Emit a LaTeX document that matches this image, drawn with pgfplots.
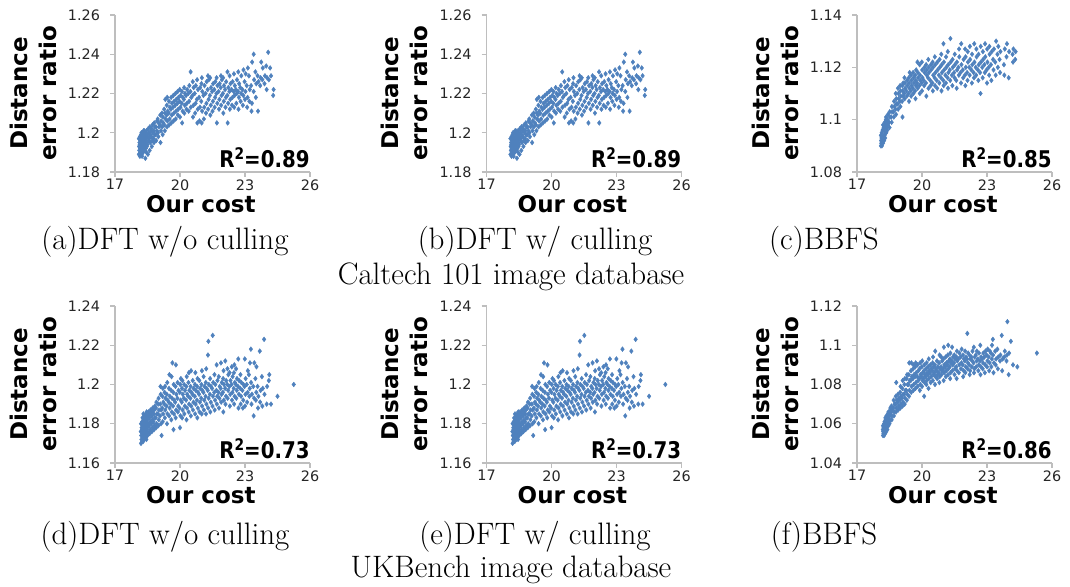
\documentclass[border=0pt]{standalone}
\usepackage{fontspec}
\usepackage{pgfplots}
\usepackage{pgfplotstable}
\pgfplotsset{compat=1.18}
\newfontfamily\dv{DejaVu Sans}
\definecolor{myblue}{RGB}{79,129,189}
\definecolor{axgray}{RGB}{190,190,190}

\pgfplotstableread[row sep=\\]{x y\\
18.10 1.189\\ 18.12 1.191\\ 18.11 1.193\\ 18.13 1.195\\ 18.10 1.197\\
18.15 1.188\\ 18.17 1.190\\ 18.16 1.192\\ 18.14 1.194\\ 18.18 1.196\\ 18.15 1.198\\
18.20 1.189\\ 18.22 1.191\\ 18.21 1.193\\ 18.19 1.195\\ 18.23 1.197\\ 18.20 1.199\\ 18.22 1.200\\
18.25 1.188\\ 18.27 1.190\\ 18.26 1.192\\ 18.24 1.194\\ 18.28 1.196\\ 18.25 1.198\\ 18.27 1.200\\
18.30 1.190\\ 18.32 1.192\\ 18.31 1.194\\ 18.29 1.196\\ 18.33 1.198\\ 18.30 1.200\\ 18.32 1.201\\
18.35 1.191\\ 18.37 1.193\\ 18.36 1.195\\ 18.34 1.197\\ 18.38 1.199\\ 18.35 1.201\\
18.40 1.187\\ 18.42 1.192\\ 18.41 1.194\\ 18.39 1.196\\ 18.43 1.198\\ 18.40 1.200\\
18.45 1.190\\ 18.47 1.193\\ 18.46 1.195\\ 18.44 1.197\\ 18.48 1.199\\ 18.45 1.201\\
18.52 1.189\\ 18.50 1.194\\ 18.55 1.196\\ 18.51 1.198\\ 18.56 1.200\\ 18.53 1.202\\
18.60 1.191\\ 18.63 1.195\\ 18.58 1.197\\ 18.62 1.199\\ 18.65 1.201\\ 18.61 1.203\\
18.70 1.193\\ 18.72 1.196\\ 18.68 1.198\\ 18.74 1.200\\ 18.69 1.202\\ 18.73 1.204\\
18.80 1.195\\ 18.78 1.197\\ 18.83 1.199\\ 18.79 1.201\\ 18.84 1.203\\ 18.81 1.205\\
18.90 1.196\\ 18.88 1.199\\ 18.93 1.201\\ 18.89 1.203\\ 18.94 1.206\\
19.00 1.198\\ 18.98 1.200\\ 19.03 1.203\\ 19.01 1.205\\ 18.97 1.207\\
19.10 1.195\\ 19.12 1.201\\ 19.08 1.204\\ 19.13 1.206\\ 19.09 1.209\\
19.20 1.199\\ 19.18 1.203\\ 19.23 1.205\\ 19.21 1.208\\ 19.17 1.210\\
19.30 1.201\\ 19.28 1.204\\ 19.33 1.207\\ 19.31 1.210\\ 19.27 1.212\\ 19.32 1.217\\
19.40 1.203\\ 19.42 1.206\\ 19.38 1.209\\ 19.43 1.211\\ 19.39 1.214\\ 19.41 1.218\\
19.50 1.204\\ 19.52 1.207\\ 19.48 1.210\\ 19.53 1.213\\ 19.49 1.216\\
19.60 1.205\\ 19.62 1.209\\ 19.58 1.212\\ 19.63 1.215\\ 19.59 1.218\\
19.70 1.206\\ 19.72 1.210\\ 19.68 1.213\\ 19.73 1.216\\ 19.69 1.219\\
19.80 1.207\\ 19.82 1.211\\ 19.78 1.214\\ 19.83 1.217\\ 19.79 1.220\\
19.90 1.209\\ 19.92 1.212\\ 19.88 1.215\\ 19.93 1.218\\ 19.89 1.221\\
20.00 1.208\\ 20.02 1.213\\ 19.98 1.216\\ 20.03 1.219\\ 19.99 1.222\\
20.10 1.205\\ 20.12 1.211\\ 20.08 1.215\\ 20.13 1.218\\ 20.09 1.221\\
20.20 1.210\\ 20.22 1.214\\ 20.18 1.217\\ 20.23 1.220\\ 20.19 1.223\\
20.30 1.212\\ 20.32 1.215\\ 20.28 1.219\\ 20.33 1.222\\
20.40 1.211\\ 20.42 1.216\\ 20.38 1.220\\ 20.43 1.224\\
20.50 1.213\\ 20.52 1.218\\ 20.48 1.221\\ 20.49 1.231\\
20.60 1.208\\ 20.62 1.214\\ 20.58 1.219\\ 20.63 1.223\\ 20.59 1.226\\
20.70 1.210\\ 20.72 1.215\\ 20.68 1.220\\ 20.73 1.224\\
20.80 1.205\\ 20.82 1.212\\ 20.78 1.217\\ 20.83 1.222\\ 20.79 1.227\\
20.90 1.206\\ 20.92 1.213\\ 20.88 1.218\\ 20.93 1.223\\
21.00 1.205\\ 21.02 1.211\\ 20.98 1.216\\ 21.03 1.221\\ 20.99 1.225\\ 21.01 1.228\\
21.10 1.207\\ 21.12 1.213\\ 21.08 1.219\\ 21.13 1.224\\
21.20 1.210\\ 21.22 1.215\\ 21.18 1.220\\ 21.23 1.226\\
21.30 1.212\\ 21.32 1.217\\ 21.28 1.222\\ 21.33 1.227\\ 21.29 1.229\\
21.40 1.209\\ 21.42 1.214\\ 21.38 1.219\\ 21.43 1.223\\ 21.39 1.228\\
21.50 1.211\\ 21.52 1.216\\ 21.48 1.221\\ 21.53 1.225\\
21.60 1.213\\ 21.62 1.218\\ 21.58 1.222\\ 21.63 1.226\\
21.70 1.205\\ 21.72 1.215\\ 21.68 1.220\\ 21.73 1.224\\ 21.69 1.228\\
21.80 1.212\\ 21.82 1.217\\ 21.78 1.221\\ 21.83 1.225\\
21.90 1.214\\ 21.92 1.219\\ 21.88 1.223\\ 21.93 1.227\\ 21.89 1.229\\
22.00 1.210\\ 22.02 1.216\\ 21.98 1.220\\ 22.03 1.224\\ 21.99 1.228\\
22.10 1.213\\ 22.12 1.218\\ 22.08 1.222\\ 22.13 1.226\\
22.20 1.205\\ 22.22 1.215\\ 22.18 1.219\\ 22.23 1.223\\ 22.19 1.231\\
22.30 1.212\\ 22.32 1.217\\ 22.28 1.221\\ 22.33 1.225\\ 22.29 1.229\\
22.40 1.214\\ 22.42 1.218\\ 22.38 1.222\\ 22.43 1.226\\
22.50 1.213\\ 22.52 1.219\\ 22.48 1.221\\ 22.53 1.224\\ 22.49 1.230\\
22.60 1.215\\ 22.62 1.220\\ 22.58 1.222\\ 22.63 1.227\\
22.70 1.212\\ 22.72 1.218\\ 22.68 1.221\\ 22.73 1.225\\ 22.69 1.231\\
22.80 1.216\\ 22.82 1.220\\ 22.78 1.223\\ 22.83 1.229\\
22.90 1.214\\ 22.92 1.219\\ 22.88 1.222\\ 22.93 1.232\\
23.00 1.217\\ 23.02 1.221\\ 22.98 1.226\\ 23.03 1.230\\
23.10 1.213\\ 23.12 1.218\\ 23.08 1.224\\ 23.13 1.233\\
23.20 1.216\\ 23.22 1.222\\ 23.18 1.229\\
23.30 1.211\\ 23.32 1.215\\ 23.28 1.224\\ 23.33 1.236\\
23.40 1.221\\ 23.42 1.227\\ 23.40 1.240\\
23.50 1.218\\ 23.52 1.225\\ 23.48 1.231\\
23.60 1.211\\ 23.62 1.226\\ 23.58 1.229\\
23.70 1.224\\ 23.72 1.228\\ 23.75 1.236\\
23.80 1.227\\ 23.82 1.233\\
23.90 1.225\\ 23.92 1.229\\
24.00 1.222\\ 24.02 1.228\\ 23.98 1.234\\
24.07 1.241\\ 24.10 1.227\\
24.20 1.229\\ 24.16 1.233\\
24.30 1.219\\ 24.32 1.222\\
}\tabA

\pgfplotstableread[row sep=\\]{x y\\
18.10 1.090\\ 18.12 1.091\\ 18.11 1.092\\ 18.13 1.093\\ 18.10 1.094\\
18.15 1.090\\ 18.17 1.092\\ 18.16 1.093\\ 18.14 1.095\\ 18.18 1.096\\
18.20 1.091\\ 18.22 1.093\\ 18.21 1.094\\ 18.19 1.096\\ 18.23 1.097\\ 18.20 1.098\\
18.25 1.092\\ 18.27 1.094\\ 18.26 1.096\\ 18.24 1.097\\ 18.28 1.099\\
18.30 1.093\\ 18.32 1.095\\ 18.31 1.097\\ 18.29 1.098\\ 18.33 1.100\\
18.35 1.095\\ 18.37 1.097\\ 18.36 1.099\\ 18.34 1.101\\
18.40 1.096\\ 18.42 1.098\\ 18.41 1.100\\ 18.43 1.102\\
18.50 1.097\\ 18.48 1.099\\ 18.52 1.101\\ 18.51 1.103\\
18.60 1.099\\ 18.58 1.101\\ 18.62 1.103\\ 18.61 1.105\\
18.70 1.101\\ 18.68 1.103\\ 18.72 1.105\\ 18.71 1.107\\
18.80 1.102\\ 18.78 1.104\\ 18.82 1.106\\ 18.81 1.108\\ 18.79 1.110\\
18.90 1.104\\ 18.88 1.106\\ 18.92 1.108\\ 18.91 1.110\\ 18.89 1.112\\
19.00 1.105\\ 18.98 1.107\\ 19.02 1.109\\ 19.01 1.111\\ 18.99 1.113\\
19.10 1.101\\ 19.08 1.107\\ 19.12 1.109\\ 19.11 1.111\\ 19.09 1.113\\ 19.13 1.114\\
19.20 1.108\\ 19.18 1.110\\ 19.22 1.112\\ 19.21 1.114\\ 19.19 1.116\\
19.30 1.109\\ 19.28 1.111\\ 19.32 1.113\\ 19.31 1.115\\
19.40 1.107\\ 19.38 1.110\\ 19.42 1.112\\ 19.41 1.114\\ 19.39 1.116\\ 19.43 1.118\\
19.50 1.109\\ 19.48 1.111\\ 19.52 1.113\\ 19.51 1.115\\ 19.49 1.117\\
19.60 1.110\\ 19.58 1.112\\ 19.62 1.114\\ 19.61 1.116\\ 19.59 1.118\\
19.70 1.108\\ 19.68 1.111\\ 19.72 1.113\\ 19.71 1.115\\ 19.69 1.117\\ 19.73 1.119\\
19.80 1.112\\ 19.78 1.114\\ 19.82 1.116\\ 19.81 1.118\\ 19.79 1.122\\
19.90 1.110\\ 19.88 1.113\\ 19.92 1.115\\ 19.91 1.117\\ 19.89 1.121\\
20.00 1.111\\ 19.98 1.114\\ 20.02 1.116\\ 20.01 1.119\\ 19.99 1.122\\
20.10 1.113\\ 20.08 1.115\\ 20.12 1.118\\ 20.11 1.120\\
20.20 1.109\\ 20.18 1.114\\ 20.22 1.117\\ 20.21 1.119\\ 20.19 1.121\\
20.30 1.112\\ 20.28 1.116\\ 20.32 1.118\\ 20.31 1.120\\ 20.29 1.123\\
20.40 1.113\\ 20.38 1.115\\ 20.42 1.119\\ 20.41 1.121\\
20.50 1.111\\ 20.48 1.114\\ 20.52 1.117\\ 20.51 1.120\\ 20.49 1.122\\
20.60 1.113\\ 20.58 1.116\\ 20.62 1.118\\ 20.61 1.121\\ 20.59 1.124\\
20.70 1.112\\ 20.68 1.115\\ 20.72 1.119\\ 20.71 1.122\\
20.80 1.114\\ 20.78 1.117\\ 20.82 1.120\\ 20.81 1.123\\
20.90 1.111\\ 20.88 1.116\\ 20.92 1.118\\ 20.91 1.121\\ 20.89 1.125\\
21.00 1.113\\ 20.98 1.115\\ 21.02 1.119\\ 21.01 1.122\\ 20.99 1.129\\
21.10 1.114\\ 21.08 1.117\\ 21.12 1.120\\ 21.11 1.124\\
21.20 1.112\\ 21.18 1.116\\ 21.22 1.118\\ 21.21 1.121\\ 21.19 1.126\\
21.30 1.115\\ 21.28 1.119\\ 21.32 1.122\\ 21.31 1.131\\
21.40 1.113\\ 21.38 1.117\\ 21.42 1.120\\ 21.41 1.123\\
21.50 1.116\\ 21.48 1.118\\ 21.52 1.121\\ 21.51 1.125\\
21.60 1.112\\ 21.58 1.115\\ 21.62 1.119\\ 21.61 1.122\\
21.70 1.117\\ 21.68 1.120\\ 21.72 1.124\\ 21.71 1.127\\
21.80 1.114\\ 21.78 1.118\\ 21.82 1.121\\ 21.81 1.129\\
21.90 1.116\\ 21.88 1.119\\ 21.92 1.123\\
22.00 1.113\\ 21.98 1.117\\ 22.02 1.120\\ 22.01 1.124\\ 21.99 1.127\\
22.10 1.115\\ 22.08 1.118\\ 22.12 1.122\\ 22.11 1.126\\
22.20 1.117\\ 22.18 1.120\\ 22.22 1.123\\ 22.21 1.128\\
22.30 1.114\\ 22.28 1.119\\ 22.32 1.121\\ 22.31 1.125\\
22.40 1.116\\ 22.38 1.118\\ 22.42 1.122\\ 22.41 1.129\\
22.50 1.117\\ 22.48 1.120\\ 22.52 1.124\\ 22.51 1.127\\
22.60 1.115\\ 22.58 1.119\\ 22.62 1.121\\ 22.61 1.125\\
22.70 1.110\\ 22.68 1.118\\ 22.72 1.122\\ 22.71 1.128\\
22.80 1.116\\ 22.78 1.120\\ 22.82 1.123\\ 22.81 1.126\\
22.90 1.118\\ 22.88 1.121\\ 22.92 1.124\\ 22.91 1.129\\
23.00 1.114\\ 22.98 1.119\\ 23.02 1.122\\ 23.01 1.127\\
23.10 1.117\\ 23.08 1.120\\ 23.12 1.125\\ 23.11 1.128\\
23.20 1.115\\ 23.18 1.121\\ 23.22 1.126\\
23.30 1.119\\ 23.28 1.123\\ 23.32 1.127\\
23.40 1.117\\ 23.38 1.122\\ 23.42 1.130\\
23.50 1.120\\ 23.48 1.125\\ 23.52 1.128\\
23.60 1.118\\ 23.58 1.123\\ 23.62 1.126\\
23.80 1.117\\ 23.78 1.121\\ 23.82 1.127\\
23.90 1.124\\ 23.92 1.129\\
24.00 1.116\\ 24.02 1.126\\
24.20 1.122\\ 24.18 1.125\\ 24.22 1.127\\
24.30 1.123\\ 24.32 1.126\\
}\tabC

\pgfplotstableread[row sep=\\]{x y\\
18.20 1.170\\ 18.22 1.172\\ 18.21 1.174\\ 18.19 1.176\\ 18.23 1.178\\ 18.20 1.180\\
18.25 1.171\\ 18.27 1.173\\ 18.26 1.175\\ 18.24 1.177\\ 18.28 1.179\\ 18.25 1.181\\ 18.27 1.183\\
18.30 1.171\\ 18.32 1.173\\ 18.31 1.175\\ 18.29 1.177\\ 18.33 1.179\\ 18.30 1.181\\ 18.32 1.183\\ 18.31 1.185\\
18.35 1.172\\ 18.37 1.174\\ 18.36 1.176\\ 18.34 1.178\\ 18.38 1.180\\ 18.35 1.182\\ 18.37 1.184\\
18.40 1.173\\ 18.42 1.175\\ 18.41 1.177\\ 18.39 1.179\\ 18.43 1.181\\ 18.40 1.183\\ 18.42 1.185\\
18.45 1.172\\ 18.47 1.174\\ 18.46 1.176\\ 18.44 1.178\\ 18.48 1.180\\ 18.45 1.182\\ 18.47 1.184\\ 18.46 1.186\\
18.50 1.174\\ 18.52 1.176\\ 18.51 1.178\\ 18.53 1.180\\ 18.50 1.182\\ 18.52 1.184\\ 18.54 1.186\\
18.60 1.175\\ 18.62 1.177\\ 18.58 1.179\\ 18.63 1.181\\ 18.59 1.183\\ 18.61 1.185\\ 18.64 1.187\\
18.70 1.176\\ 18.72 1.178\\ 18.68 1.180\\ 18.73 1.182\\ 18.69 1.184\\ 18.71 1.186\\ 18.74 1.188\\
18.80 1.177\\ 18.82 1.179\\ 18.78 1.181\\ 18.83 1.183\\ 18.79 1.185\\ 18.81 1.187\\ 18.84 1.189\\
18.90 1.178\\ 18.92 1.180\\ 18.88 1.183\\ 18.93 1.185\\ 18.89 1.188\\ 18.91 1.191\\
19.00 1.179\\ 19.02 1.182\\ 18.98 1.185\\ 19.03 1.187\\ 18.99 1.190\\ 19.01 1.193\\
19.15 1.174\\ 19.12 1.180\\ 19.08 1.184\\ 19.13 1.187\\ 19.09 1.190\\ 19.11 1.195\\ 19.10 1.199\\
19.20 1.181\\ 19.22 1.185\\ 19.18 1.188\\ 19.23 1.191\\ 19.19 1.194\\ 19.21 1.198\\
19.30 1.183\\ 19.32 1.187\\ 19.28 1.190\\ 19.33 1.193\\ 19.29 1.196\\ 19.31 1.199\\
19.40 1.180\\ 19.42 1.185\\ 19.38 1.189\\ 19.43 1.192\\ 19.39 1.195\\ 19.41 1.201\\
19.50 1.184\\ 19.52 1.188\\ 19.48 1.191\\ 19.53 1.194\\ 19.49 1.198\\ 19.51 1.205\\
19.60 1.182\\ 19.62 1.186\\ 19.58 1.190\\ 19.63 1.193\\ 19.59 1.197\\ 19.61 1.204\\
19.70 1.177\\ 19.72 1.185\\ 19.68 1.189\\ 19.73 1.192\\ 19.69 1.196\\ 19.71 1.200\\ 19.65 1.211\\
19.80 1.183\\ 19.82 1.187\\ 19.78 1.191\\ 19.83 1.195\\ 19.79 1.199\\ 19.81 1.210\\
19.90 1.186\\ 19.92 1.189\\ 19.88 1.193\\ 19.93 1.197\\ 19.89 1.201\\
20.00 1.178\\ 20.02 1.184\\ 19.98 1.188\\ 20.03 1.192\\ 19.99 1.196\\ 20.01 1.200\\ 20.04 1.203\\
20.10 1.183\\ 20.12 1.187\\ 20.08 1.191\\ 20.13 1.195\\ 20.09 1.198\\ 20.11 1.202\\
20.20 1.185\\ 20.22 1.189\\ 20.18 1.193\\ 20.23 1.197\\ 20.19 1.200\\
20.30 1.182\\ 20.32 1.188\\ 20.28 1.192\\ 20.33 1.195\\ 20.29 1.199\\ 20.31 1.204\\
20.40 1.186\\ 20.42 1.190\\ 20.38 1.194\\ 20.43 1.197\\ 20.39 1.201\\ 20.41 1.206\\
20.50 1.184\\ 20.52 1.189\\ 20.48 1.193\\ 20.53 1.196\\ 20.49 1.199\\ 20.51 1.207\\
20.60 1.187\\ 20.62 1.191\\ 20.58 1.195\\ 20.63 1.198\\ 20.59 1.202\\
20.70 1.185\\ 20.72 1.190\\ 20.68 1.194\\ 20.73 1.197\\ 20.69 1.200\\ 20.71 1.206\\
20.80 1.183\\ 20.82 1.188\\ 20.78 1.192\\ 20.83 1.196\\ 20.79 1.199\\ 20.81 1.203\\
20.90 1.186\\ 20.92 1.191\\ 20.88 1.195\\ 20.93 1.198\\ 20.89 1.202\\
21.00 1.185\\ 21.02 1.189\\ 20.98 1.193\\ 21.03 1.197\\ 20.99 1.200\\ 21.01 1.207\\
21.10 1.187\\ 21.12 1.192\\ 21.08 1.196\\ 21.13 1.199\\ 21.09 1.204\\
21.20 1.185\\ 21.22 1.190\\ 21.18 1.194\\ 21.23 1.198\\ 21.19 1.201\\ 21.21 1.208\\
21.30 1.188\\ 21.32 1.193\\ 21.28 1.197\\ 21.33 1.200\\ 21.29 1.215\\ 21.31 1.222\\
21.40 1.186\\ 21.42 1.191\\ 21.38 1.195\\ 21.43 1.199\\ 21.39 1.203\\
21.50 1.189\\ 21.52 1.194\\ 21.48 1.198\\ 21.53 1.201\\ 21.51 1.225\\
21.60 1.187\\ 21.62 1.192\\ 21.58 1.196\\ 21.63 1.200\\ 21.59 1.205\\
21.70 1.190\\ 21.72 1.194\\ 21.68 1.197\\ 21.73 1.202\\ 21.69 1.210\\
21.80 1.188\\ 21.82 1.193\\ 21.78 1.196\\ 21.83 1.199\\ 21.79 1.204\\
21.90 1.191\\ 21.92 1.195\\ 21.88 1.198\\ 21.93 1.201\\ 21.89 1.211\\
22.00 1.186\\ 22.02 1.192\\ 21.98 1.196\\ 22.03 1.200\\ 21.99 1.203\\ 22.01 1.207\\
22.10 1.190\\ 22.12 1.194\\ 22.08 1.198\\ 22.13 1.202\\ 22.09 1.212\\
22.20 1.193\\ 22.22 1.197\\ 22.18 1.200\\ 22.23 1.205\\ 22.19 1.208\\
22.30 1.189\\ 22.32 1.195\\ 22.28 1.199\\ 22.33 1.202\\ 22.29 1.206\\
22.40 1.192\\ 22.42 1.196\\ 22.38 1.200\\ 22.43 1.204\\ 22.39 1.209\\
22.50 1.190\\ 22.52 1.194\\ 22.48 1.198\\ 22.53 1.201\\ 22.49 1.206\\ 22.51 1.210\\
22.60 1.193\\ 22.62 1.197\\ 22.58 1.200\\ 22.63 1.203\\ 22.59 1.208\\
22.70 1.188\\ 22.72 1.195\\ 22.68 1.199\\ 22.73 1.202\\ 22.69 1.213\\
22.80 1.190\\ 22.82 1.194\\ 22.78 1.198\\ 22.83 1.201\\ 22.79 1.205\\
22.90 1.188\\ 22.92 1.192\\ 22.88 1.197\\ 22.93 1.200\\
23.00 1.189\\ 23.02 1.195\\ 22.98 1.199\\ 23.03 1.203\\ 22.99 1.213\\
23.10 1.191\\ 23.12 1.196\\ 23.08 1.200\\ 23.13 1.207\\
23.20 1.194\\ 23.22 1.198\\ 23.18 1.205\\ 23.23 1.211\\
23.30 1.190\\ 23.32 1.195\\ 23.28 1.201\\ 23.27 1.218\\
23.40 1.184\\ 23.42 1.193\\ 23.38 1.199\\ 23.43 1.211\\
23.50 1.192\\ 23.52 1.196\\ 23.48 1.203\\ 23.53 1.209\\
23.60 1.188\\ 23.62 1.194\\ 23.58 1.199\\
23.70 1.191\\ 23.72 1.197\\ 23.68 1.217\\
23.80 1.189\\ 23.82 1.198\\ 23.78 1.204\\
23.90 1.195\\ 23.88 1.223\\
24.00 1.190\\ 24.02 1.199\\
24.10 1.202\\ 24.12 1.205\\
24.20 1.190\\
24.50 1.194\\
25.25 1.200\\
}\tabD

\pgfplotstableread[row sep=\\]{x y\\
18.20 1.054\\ 18.22 1.055\\ 18.21 1.056\\ 18.19 1.057\\ 18.23 1.058\\ 18.20 1.059\\
18.25 1.054\\ 18.27 1.056\\ 18.26 1.057\\ 18.24 1.058\\ 18.28 1.059\\ 18.25 1.060\\ 18.27 1.061\\
18.30 1.055\\ 18.32 1.057\\ 18.31 1.058\\ 18.29 1.059\\ 18.33 1.060\\ 18.30 1.061\\ 18.32 1.062\\ 18.31 1.063\\
18.35 1.056\\ 18.37 1.058\\ 18.36 1.059\\ 18.34 1.060\\ 18.38 1.061\\ 18.35 1.062\\ 18.37 1.063\\ 18.36 1.064\\
18.40 1.057\\ 18.42 1.059\\ 18.41 1.060\\ 18.39 1.062\\ 18.43 1.063\\ 18.40 1.064\\ 18.42 1.065\\
18.45 1.059\\ 18.47 1.061\\ 18.46 1.062\\ 18.44 1.063\\ 18.48 1.065\\ 18.45 1.066\\
18.50 1.060\\ 18.52 1.062\\ 18.51 1.064\\ 18.53 1.065\\ 18.50 1.066\\ 18.54 1.068\\
18.60 1.062\\ 18.62 1.064\\ 18.58 1.066\\ 18.63 1.067\\ 18.59 1.069\\
18.70 1.064\\ 18.72 1.066\\ 18.68 1.068\\ 18.73 1.070\\ 18.69 1.072\\
18.80 1.066\\ 18.82 1.068\\ 18.78 1.070\\ 18.83 1.072\\ 18.79 1.074\\ 18.81 1.081\\
18.90 1.067\\ 18.92 1.069\\ 18.88 1.071\\ 18.93 1.073\\ 18.89 1.075\\
19.00 1.068\\ 19.02 1.070\\ 18.98 1.072\\ 19.03 1.074\\ 18.99 1.076\\ 19.01 1.079\\
19.10 1.069\\ 19.12 1.071\\ 19.08 1.073\\ 19.13 1.075\\ 19.09 1.078\\ 19.11 1.082\\
19.20 1.070\\ 19.22 1.073\\ 19.18 1.075\\ 19.23 1.077\\ 19.19 1.080\\ 19.21 1.083\\
19.30 1.072\\ 19.32 1.075\\ 19.28 1.077\\ 19.33 1.080\\ 19.29 1.083\\ 19.31 1.085\\
19.40 1.074\\ 19.42 1.077\\ 19.38 1.080\\ 19.43 1.082\\ 19.39 1.085\\ 19.41 1.091\\
19.50 1.076\\ 19.52 1.079\\ 19.48 1.082\\ 19.53 1.084\\ 19.49 1.087\\ 19.51 1.091\\
19.60 1.077\\ 19.62 1.080\\ 19.58 1.083\\ 19.63 1.085\\ 19.59 1.088\\ 19.61 1.090\\
19.70 1.078\\ 19.72 1.081\\ 19.68 1.084\\ 19.73 1.086\\ 19.69 1.089\\ 19.71 1.091\\
19.80 1.079\\ 19.82 1.082\\ 19.78 1.084\\ 19.83 1.087\\ 19.79 1.090\\
19.90 1.077\\ 19.92 1.080\\ 19.88 1.083\\ 19.93 1.085\\ 19.89 1.088\\ 19.91 1.091\\
20.00 1.079\\ 20.02 1.082\\ 19.98 1.084\\ 20.03 1.086\\ 19.99 1.089\\ 20.01 1.092\\
20.10 1.074\\ 20.12 1.081\\ 20.08 1.083\\ 20.13 1.085\\ 20.09 1.087\\ 20.11 1.090\\
20.20 1.080\\ 20.22 1.082\\ 20.18 1.084\\ 20.23 1.086\\ 20.19 1.088\\ 20.21 1.091\\
20.30 1.078\\ 20.32 1.083\\ 20.28 1.085\\ 20.33 1.087\\ 20.29 1.089\\ 20.31 1.093\\
20.40 1.081\\ 20.42 1.084\\ 20.38 1.086\\ 20.43 1.088\\ 20.39 1.090\\
20.50 1.082\\ 20.52 1.085\\ 20.48 1.087\\ 20.53 1.089\\ 20.49 1.091\\ 20.51 1.094\\
20.60 1.080\\ 20.62 1.084\\ 20.58 1.086\\ 20.63 1.088\\ 20.59 1.090\\ 20.61 1.097\\
20.70 1.083\\ 20.72 1.085\\ 20.68 1.087\\ 20.73 1.089\\ 20.69 1.092\\
20.80 1.081\\ 20.82 1.084\\ 20.78 1.086\\ 20.83 1.088\\ 20.79 1.091\\ 20.81 1.095\\
20.90 1.085\\ 20.92 1.087\\ 20.88 1.089\\ 20.93 1.092\\ 20.89 1.094\\
21.00 1.082\\ 21.02 1.086\\ 20.98 1.088\\ 21.03 1.090\\ 20.99 1.093\\ 21.01 1.099\\
21.10 1.084\\ 21.12 1.087\\ 21.08 1.089\\ 21.13 1.091\\ 21.09 1.094\\
21.20 1.085\\ 21.22 1.088\\ 21.18 1.090\\ 21.23 1.092\\ 21.19 1.095\\ 21.21 1.100\\
21.30 1.083\\ 21.32 1.086\\ 21.28 1.089\\ 21.33 1.091\\ 21.29 1.093\\ 21.31 1.096\\
21.40 1.087\\ 21.42 1.090\\ 21.38 1.092\\ 21.43 1.094\\ 21.39 1.099\\
21.50 1.085\\ 21.52 1.088\\ 21.48 1.091\\ 21.53 1.093\\ 21.49 1.095\\
21.60 1.083\\ 21.62 1.087\\ 21.58 1.089\\ 21.63 1.092\\ 21.59 1.094\\ 21.61 1.097\\
21.70 1.086\\ 21.72 1.090\\ 21.68 1.093\\ 21.73 1.096\\
21.80 1.088\\ 21.82 1.091\\ 21.78 1.094\\ 21.83 1.098\\
21.90 1.084\\ 21.92 1.087\\ 21.88 1.090\\ 21.93 1.093\\ 21.89 1.095\\
22.00 1.086\\ 22.02 1.089\\ 21.98 1.092\\ 22.03 1.094\\ 21.99 1.097\\
22.10 1.088\\ 22.12 1.091\\ 22.08 1.093\\ 22.13 1.096\\ 22.09 1.106\\
22.20 1.085\\ 22.22 1.087\\ 22.18 1.090\\ 22.23 1.093\\ 22.19 1.095\\
22.30 1.089\\ 22.32 1.092\\ 22.28 1.094\\ 22.33 1.097\\
22.40 1.086\\ 22.42 1.088\\ 22.38 1.091\\ 22.43 1.094\\ 22.39 1.099\\
22.50 1.089\\ 22.52 1.092\\ 22.48 1.095\\ 22.53 1.097\\
22.60 1.087\\ 22.62 1.090\\ 22.58 1.093\\ 22.63 1.096\\
22.70 1.085\\ 22.72 1.089\\ 22.68 1.092\\ 22.73 1.094\\ 22.69 1.100\\
22.80 1.088\\ 22.82 1.091\\ 22.78 1.093\\ 22.83 1.096\\
22.90 1.086\\ 22.92 1.090\\ 22.88 1.094\\ 22.93 1.097\\
23.00 1.089\\ 23.02 1.092\\ 22.98 1.095\\ 23.03 1.098\\
23.10 1.087\\ 23.12 1.091\\ 23.08 1.094\\ 23.13 1.097\\
23.20 1.089\\ 23.22 1.093\\ 23.18 1.096\\ 23.23 1.100\\
23.30 1.086\\ 23.32 1.091\\ 23.28 1.095\\ 23.27 1.103\\
23.40 1.090\\ 23.42 1.093\\ 23.38 1.097\\
23.50 1.088\\ 23.52 1.094\\ 23.48 1.098\\
23.60 1.092\\ 23.62 1.095\\
23.70 1.087\\ 23.72 1.093\\ 23.68 1.105\\
23.80 1.094\\ 23.82 1.097\\
23.90 1.092\\ 23.92 1.095\\ 23.94 1.112\\
24.00 1.085\\ 24.02 1.096\\
24.10 1.102\\
24.20 1.090\\
24.40 1.089\\
25.30 1.096\\
}\tabF

\pgfplotsset{
  sc/.style={
    scale only axis, width=97.5pt, height=78.5pt,
    xmin=17, xmax=26, xtick={17,20,23,26},
    axis x line*=bottom, axis y line*=left,
    axis line style={draw=axgray, line width=0.6pt},
    every tick/.style={draw=axgray, line width=0.6pt},
    tick align=outside, major tick length=2.5pt,
    ticklabel style={font=\dv\fontsize{7.2}{8}\selectfont, text=black!85, inner sep=0pt},
    xticklabel style={yshift=-1pt},
    yticklabel style={xshift=-4.8pt},
    /pgf/number format/assume math mode=true,
    clip=false,
    xlabel={Our cost},
    xlabel style={font=\dv\bfseries\fontsize{11.5}{13}\selectfont, inner sep=0pt, at={(axis description cs:0.44,-0.255)}, anchor=base},
    ylabel={Distance\\error ratio},
    ylabel style={font=\dv\bfseries\fontsize{11.5}{14.5}\selectfont, inner sep=0pt, align=center, at={(axis description cs:-0.42,0.5)}, anchor=center},
  },
  pts/.style={only marks, mark=diamond*, mark size=1.2pt, color=myblue, mark options={line width=0.2pt}},
}
\tikzset{rsq/.style={font=\dv\bfseries\fontsize{11.5}{13}\selectfont, anchor=base east, inner sep=0pt}}
\newcommand{\rsq}[1]{\scalebox{0.86}[1]{R\raisebox{0.32em}{\fontsize{8}{8}\selectfont 2}=#1}}

\begin{document}
\begin{tikzpicture}
\useasboundingbox (0,0) rectangle (535pt,293.5pt);

% (a)
\begin{axis}[sc, at={(57.5pt,207.5pt)}, anchor=south west,
  ymin=1.18, ymax=1.26, ytick={1.18,1.2,1.22,1.24,1.26}]
\addplot[pts] table {\tabA};
\node[rsq] at (rel axis cs:1,0.03) {\rsq{0.89}};
\end{axis}
% (b)
\begin{axis}[sc, at={(243.3pt,207.5pt)}, anchor=south west,
  ymin=1.18, ymax=1.26, ytick={1.18,1.2,1.22,1.24,1.26}]
\addplot[pts] table {\tabA};
\node[rsq] at (rel axis cs:1,0.03) {\rsq{0.89}};
\end{axis}
% (c)
\begin{axis}[sc, at={(428.5pt,207.5pt)}, anchor=south west,
  ymin=1.08, ymax=1.14, ytick={1.08,1.1,1.12,1.14}]
\addplot[pts] table {\tabC};
\node[rsq] at (rel axis cs:1,0.03) {\rsq{0.85}};
\end{axis}
% (d)
\begin{axis}[sc, at={(57.5pt,62pt)}, anchor=south west,
  ymin=1.16, ymax=1.24, ytick={1.16,1.18,1.2,1.22,1.24}]
\addplot[pts] table {\tabD};
\node[rsq] at (rel axis cs:1,0.03) {\rsq{0.73}};
\end{axis}
% (e)
\begin{axis}[sc, at={(243.3pt,62pt)}, anchor=south west,
  ymin=1.16, ymax=1.24, ytick={1.16,1.18,1.2,1.22,1.24}]
\addplot[pts] table {\tabD};
\node[rsq] at (rel axis cs:1,0.03) {\rsq{0.73}};
\end{axis}
% (f)
\begin{axis}[sc, at={(428.5pt,62pt)}, anchor=south west,
  ymin=1.04, ymax=1.12, ytick={1.04,1.06,1.08,1.1,1.12}]
\addplot[pts] table {\tabF};
\node[rsq] at (rel axis cs:1,0.03) {\rsq{0.86}};
\end{axis}

\begin{scope}[every node/.style={font=\fontsize{15.5}{18}\selectfont, anchor=base, inner sep=0pt}]
\node at (82.5pt,168.5pt) {(a)DFT w/o culling};
\node at (267.5pt,168.5pt) {(b)DFT w/ culling};
\node at (412pt,168.5pt) {(c)BBFS};
\node at (255.5pt,151pt) {Caltech 101 image database};
\node at (82.5pt,21pt) {(d)DFT w/o culling};
\node at (267.5pt,21pt) {(e)DFT w/ culling};
\node at (412pt,21pt) {(f)BBFS};
\node at (255.5pt,4.5pt) {UKBench image database};
\end{scope}
\end{tikzpicture}
\end{document}
